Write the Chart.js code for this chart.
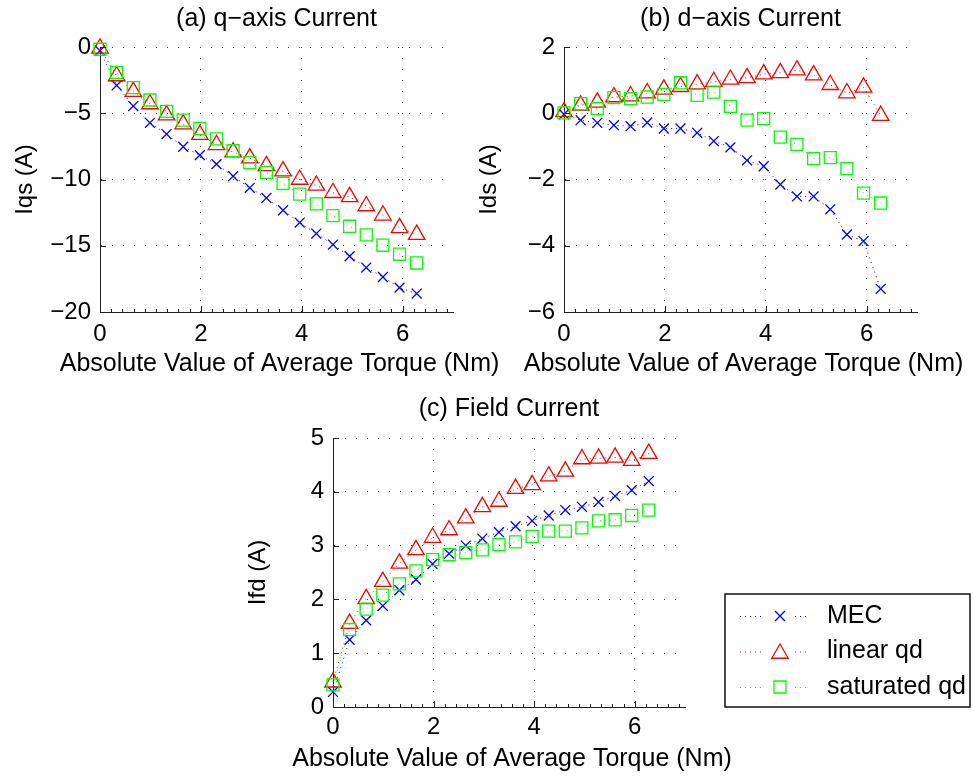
<!DOCTYPE html>
<html>
<head>
<meta charset="utf-8">
<title>Current vs torque</title>
<script src="https://cdn.jsdelivr.net/npm/chart.js@4.4.1/dist/chart.umd.min.js"></script>
<style>
  html, body { margin: 0; padding: 0; background: #fff; }
  #wrap { position: relative; width: 974px; height: 776px; overflow: hidden; }
  #wrap canvas { position: absolute; }
</style>
</head>
<body>
<div id="wrap">
  <canvas id="chart-iq"  width="520" height="385" style="left:0;top:0"></canvas>
  <canvas id="chart-id"  width="510" height="385" style="left:464px;top:0"></canvas>
  <canvas id="chart-ifd" width="741" height="385" style="left:233px;top:391px"></canvas>
</div>
<script>
// ── Data ───────────────────────────────────────────────────────
// torque operating points, Nm (same for every panel)
const TORQUE = [0, 0.33, 0.66, 0.99, 1.32, 1.65, 1.98, 2.31, 2.64, 2.97,
                3.3, 3.63, 3.96, 4.29, 4.62, 4.95, 5.28, 5.61, 5.94, 6.28];

const SERIES_NAMES = ['MEC', 'linear qd', 'saturated qd'];

// (a) q-axis current, A
const IQS_MEC = [-0.28, -2.9, -4.46, -5.72, -6.57, -7.53, -8.16, -8.84, -9.75, -10.63,
                 -11.39, -12.32, -13.25, -14.08, -14.91, -15.79, -16.65, -17.36, -18.16, -18.61];
const IQS_LIN = [-0.1, -2.19, -3.37, -4.3, -5.14, -5.82, -6.62, -7.38, -7.93, -8.39,
                 -8.97, -9.37, -10.0, -10.45, -11.0, -11.31, -12.0, -12.7, -13.65, -14.16];
const IQS_SAT = [-0.17, -1.94, -3.07, -4.0, -4.86, -5.52, -6.15, -6.93, -7.83, -8.72,
                 -9.47, -10.3, -11.11, -11.84, -12.72, -13.53, -14.18, -14.96, -15.64, -16.3];

// (b) d-axis current, A
const IDS_MEC = [-0.03, -0.21, -0.29, -0.36, -0.39, -0.28, -0.46, -0.46, -0.59, -0.84,
                 -1.03, -1.42, -1.6, -2.15, -2.51, -2.51, -2.9, -3.66, -3.86, -5.3];
const IDS_LIN = [0.04, 0.24, 0.33, 0.49, 0.52, 0.61, 0.72, 0.8, 0.88, 0.95,
                 1.02, 1.07, 1.18, 1.22, 1.3, 1.15, 0.86, 0.61, 0.78, -0.07];
const IDS_SAT = [0.01, 0.29, 0.14, 0.47, 0.44, 0.49, 0.57, 0.92, 0.54, 0.64,
                 0.21, -0.21, -0.16, -0.72, -0.94, -1.37, -1.34, -1.67, -2.41, -2.71];

// (c) field current, A
const IFD_MEC = [0.28, 1.25, 1.61, 1.88, 2.17, 2.37, 2.66, 2.85, 3.0, 3.13,
                 3.25, 3.36, 3.46, 3.56, 3.66, 3.72, 3.81, 3.92, 4.03, 4.2];
const IFD_LIN = [0.46, 1.55, 2.01, 2.33, 2.67, 2.92, 3.15, 3.29, 3.51, 3.72,
                 3.82, 4.06, 4.13, 4.29, 4.38, 4.61, 4.62, 4.64, 4.58, 4.71];
const IFD_SAT = [0.41, 1.44, 1.82, 2.08, 2.29, 2.53, 2.74, 2.83, 2.87, 2.92,
                 3.02, 3.07, 3.17, 3.27, 3.27, 3.33, 3.46, 3.48, 3.56, 3.66];

const X_LABEL = 'Absolute Value of Average Torque (Nm)';

// ── Styling ─────────────────────────────────────────────────────
const FAMILY = "'Liberation Sans', Arial, Helvetica, sans-serif";
const FONT = { family: FAMILY, size: 24, weight: 'normal' };
const TITLE_FONT = { family: FAMILY, size: 25, weight: 'normal' };
const STYLES = [
  { color: '#0000ff', pointStyle: 'crossRot', radius: 7,   order: 2 },
  { color: '#ff0000', pointStyle: 'triangle', radius: 9.5, order: 1 },
  { color: '#00ff00', pointStyle: 'rect',     radius: 8.5, order: 0 },
];
const LINE_DASH = [1, 4];

Chart.defaults.font.family = FAMILY;
Chart.defaults.font.size = FONT.size;
Chart.defaults.color = '#000';

function minusSign(v) { return String(v).replace('-', '\u2212'); }

// MATLAB-like inward tick marks (major + minor on x)
const inwardTicks = {
  id: 'inwardTicks',
  afterDraw(chart) {
    const ctx = chart.ctx, a = chart.chartArea;
    const xs = chart.scales.x, ys = chart.scales.y;
    ctx.save();
    ctx.strokeStyle = '#222';
    ctx.lineWidth = 1;
    ctx.beginPath();
    xs.ticks.forEach(function (t) {
      const px = Math.round(xs.getPixelForValue(t.value)) + 0.5;
      ctx.moveTo(px, a.bottom); ctx.lineTo(px, a.bottom - 6);
    });
    const minorStep = 2 / 9;
    for (let k = 1; k * minorStep < xs.max; k++) {
      const px = Math.round(xs.getPixelForValue(k * minorStep)) + 0.5;
      ctx.moveTo(px, a.bottom); ctx.lineTo(px, a.bottom - 3);
    }
    ys.ticks.forEach(function (t) {
      const py = Math.round(ys.getPixelForValue(t.value)) + 0.5;
      ctx.moveTo(a.left, py); ctx.lineTo(a.left + 6, py);
    });
    ctx.stroke();
    ctx.restore();
  }
};

// x-axis label drawn at full width (the scale title squeezes it to the axis length)
const xLabel = {
  id: 'xLabel',
  afterDraw(chart, args, opts) {
    const ctx = chart.ctx, a = chart.chartArea;
    ctx.save();
    ctx.font = '25px ' + FAMILY;
    ctx.fillStyle = '#000';
    ctx.textAlign = 'center';
    ctx.textBaseline = 'middle';
    ctx.fillText(opts.text, (a.left + a.right) / 2 + 3, a.bottom + opts.offset);
    ctx.restore();
  }
};

// legend box sitting to the right of panel (c)
const sideLegend = {
  id: 'sideLegend',
  afterDraw(chart) {
    const ctx = chart.ctx;
    const box = { x: 492, y: 203, w: 245, h: 113 };
    ctx.save();
    ctx.fillStyle = '#fff';
    ctx.fillRect(box.x, box.y, box.w, box.h);
    ctx.strokeStyle = '#111';
    ctx.lineWidth = 1.5;
    ctx.strokeRect(box.x, box.y, box.w, box.h);
    ctx.font = '25px ' + FAMILY;
    ctx.textBaseline = 'middle';
    SERIES_NAMES.forEach(function (name, i) {
      const st = STYLES[i];
      const cy = box.y + 22 + i * 35.5;
      ctx.strokeStyle = st.color;
      ctx.lineWidth = 1;
      ctx.setLineDash(LINE_DASH);
      ctx.beginPath();
      ctx.moveTo(box.x + 15, cy + 0.5); ctx.lineTo(box.x + 85, cy + 0.5);
      ctx.stroke();
      ctx.setLineDash([]);
      // clear behind the marker like MATLAB does
      ctx.fillStyle = '#fff';
      ctx.fillRect(box.x + 40, cy - 10, 30, 20);
      ctx.fillStyle = 'rgba(0,0,0,0)';
      ctx.strokeStyle = st.color;
      ctx.lineWidth = 1.3;
      Chart.helpers.drawPoint(ctx, { pointStyle: st.pointStyle, radius: st.radius, rotation: 0, borderWidth: 1.3 },
        box.x + 55, cy + (st.pointStyle === 'triangle' ? 2 : 0));
      ctx.fillStyle = '#000';
      ctx.fillText(name, box.x + 102, cy);
    });
    ctx.restore();
  }
};

function makePanel(id, p) {
  const datasets = p.series.map(function (vals, i) {
    const st = STYLES[i];
    return {
      label: SERIES_NAMES[i],
      data: TORQUE.map(function (t, k) { return { x: t, y: vals[k] }; }),
      borderColor: st.color,
      borderWidth: 1,
      borderDash: LINE_DASH,
      pointStyle: st.pointStyle,
      pointRadius: st.radius,
      pointBorderWidth: 1.3,
      pointBorderColor: st.color,
      pointBackgroundColor: 'rgba(0,0,0,0)',
      tension: 0,
      clip: false,
      order: st.order,
    };
  });

  return new Chart(document.getElementById(id), {
    type: 'line',
    data: { datasets: datasets },
    plugins: p.plugins,
    options: {
      responsive: false,
      animation: false,
      devicePixelRatio: 1,
      layout: { autoPadding: false, padding: { left: 0, top: 0, bottom: 0, right: p.padRight } },
      plugins: {
        legend: { display: false },
        tooltip: { enabled: false },
        title: {
          display: true, text: p.title, fullSize: false, color: '#000',
          font: TITLE_FONT, padding: { top: p.titleTop, bottom: p.titleBottom }
        },
        xLabel: { text: X_LABEL, offset: 52 }
      },
      scales: {
        x: {
          type: 'linear', min: 0, max: 7,
          ticks: { stepSize: 2, includeBounds: false, padding: p.xTickPad, maxRotation: 0, color: '#000', font: FONT },
          grid: { color: '#444', lineWidth: 1, drawTicks: false },
          border: { display: true, color: '#222', width: 1, dash: [1, 10] },
          title: { display: false },
          afterFit: function (s) { s.height = p.xHeight; }
        },
        y: {
          type: 'linear', min: p.yMin, max: p.yMax,
          ticks: { stepSize: p.yStep, padding: 9, color: '#000', font: FONT, callback: minusSign },
          grid: { color: '#444', lineWidth: 1, drawTicks: false },
          border: { display: true, color: '#222', width: 1, dash: [1, 10] },
          title: { display: true, text: p.yLabel, color: '#000', font: FONT, padding: { top: 10.6, bottom: 0 } },
          afterFit: function (s) { s.width = 100; }
        }
      }
    }
  });
}

// ── Panels ─────────────────────────────────────────────────────
makePanel('chart-iq', {
  title: '(a) q\u2212axis Current', yLabel: 'Iqs (A)',
  series: [IQS_MEC, IQS_LIN, IQS_SAT],
  yMin: -20, yMax: 0, yStep: 5,
  padRight: 67, titleTop: 3.7, titleBottom: 13.3,
  xHeight: 73, xTickPad: 7.6,
  plugins: [inwardTicks, xLabel]
});

makePanel('chart-id', {
  title: '(b) d\u2212axis Current', yLabel: 'Ids (A)',
  series: [IDS_MEC, IDS_LIN, IDS_SAT],
  yMin: -6, yMax: 2, yStep: 2,
  padRight: 57, titleTop: 3.7, titleBottom: 13.3,
  xHeight: 73, xTickPad: 7.6,
  plugins: [inwardTicks, xLabel]
});

makePanel('chart-ifd', {
  title: '(c) Field Current', yLabel: 'Ifd (A)',
  series: [IFD_MEC, IFD_LIN, IFD_SAT],
  yMin: 0, yMax: 5, yStep: 1,
  padRight: 289, titleTop: 3.3, titleBottom: 13.7,
  xHeight: 69, xTickPad: 6,
  plugins: [inwardTicks, xLabel, sideLegend]
});
</script>
</body>
</html>
